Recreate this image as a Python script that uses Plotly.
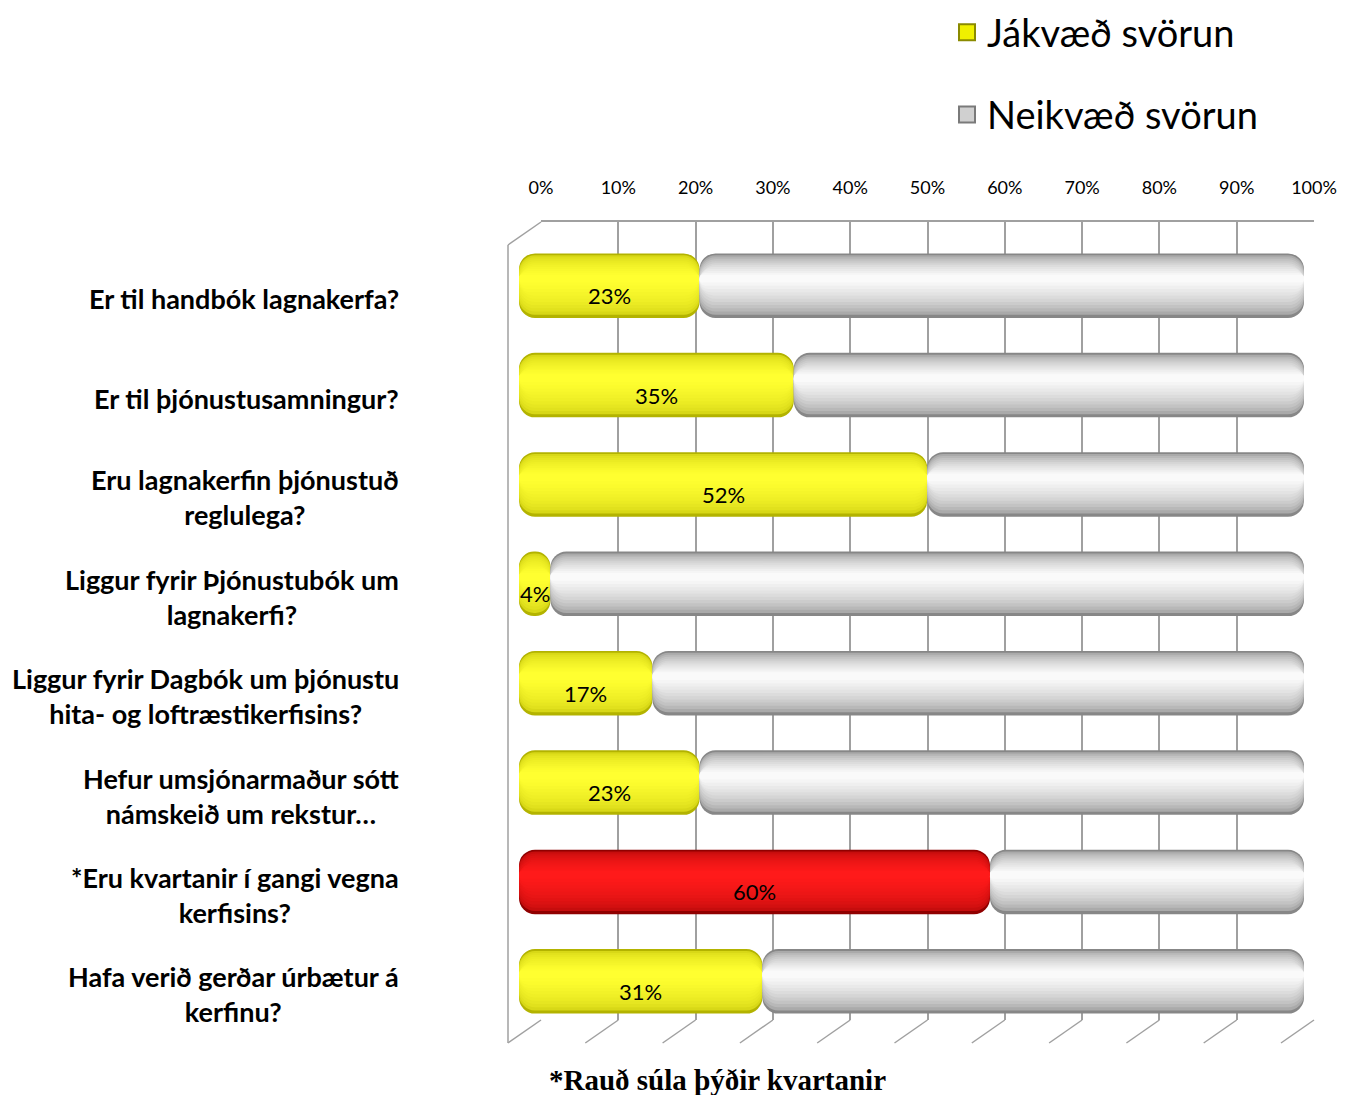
import plotly.graph_objects as go

# ---------------- data ----------------
categories = [
    "Er til handbók lagnakerfa?",
    "Er til þjónustusamningur?",
    "Eru lagnakerfin þjónustuð<br>reglulega?",
    "Liggur fyrir Þjónustubók um<br>lagnakerfi?",
    "Liggur fyrir Dagbók um þjónustu<br>hita- og loftræstikerfisins?",
    "Hefur umsjónarmaður sótt<br>námskeið um rekstur…",
    "*Eru kvartanir í gangi vegna<br>kerfisins?",
    "Hafa verið gerðar úrbætur á<br>kerfinu?",
]
jakvaed = [0.23, 0.35, 0.52, 0.04, 0.17, 0.23, 0.60, 0.31]
neikvaed = [round(1 - v, 2) for v in jakvaed]
kvartanir = [False, False, False, False, False, False, True, False]
series_names = ["Jákvæð svörun", "Neikvæð svörun"]
tick_vals = [0, 0.1, 0.2, 0.3, 0.4, 0.5, 0.6, 0.7, 0.8, 0.9, 1.0]
footnote = "*Rauð súla þýðir kvartanir"

# ---------------- style ----------------
OFF = 8                      # page body margin
W, H = 1352 - OFF, 1095 - OFF
FONT = "Lato"
RADIUS = 16
N_LAYERS = 12


def px_x(p):
    return (p - OFF) / W


def px_y(p):
    return 1 - (p - OFF) / H


def hex2rgb(h):
    return tuple(int(h[i:i + 2], 16) for i in (1, 3, 5))


def lerp(c1, c2, t):
    a, b = hex2rgb(c1), hex2rgb(c2)
    return "rgb(%d,%d,%d)" % tuple(round(x + (y - x) * t) for x, y in zip(a, b))


def layers(edge, hi, gamma):
    out = []
    for k in range(N_LAYERS):
        t = k / (N_LAYERS - 1)
        w = 0.65 * (1 - 0.88 * t)
        shift = -0.07 * t
        out.append((w, shift, lerp(edge, hi, t ** gamma)))
    return out


gray_layers = layers("#878787", "#fafafa", 0.5)
yellow_layers = layers("#b3b300", "#ffff30", 0.3)
red_layers = layers("#900000", "#ff1a1a", 0.3)

fig = go.Figure()

# invisible trace for the back-wall axis (gridlines)
fig.add_trace(go.Scatter(x=[0, 1], y=[0, 1], mode="markers", marker=dict(opacity=0),
                         showlegend=False, hoverinfo="skip", xaxis="x", yaxis="y"))

# positive (yellow / red) bars: from the value back to 0, so the rounded end sits at 0
for i, (w, sh, col) in enumerate(yellow_layers):
    colors = [red_layers[i][2] if k else col for k in kvartanir]
    fig.add_trace(go.Bar(
        y=categories, x=[-v for v in jakvaed], base=jakvaed, orientation="h",
        width=w, offset=-w / 2 + sh,
        marker=dict(color=colors, cornerradius=RADIUS, line=dict(width=0)),
        name=series_names[0], showlegend=False, xaxis="x2", yaxis="y2", hoverinfo="skip",
    ))

# negative (gray) bars: from the value to 100 %, rounded at the right end
for i, (w, sh, col) in enumerate(gray_layers):
    fig.add_trace(go.Bar(
        y=categories, x=neikvaed, base=jakvaed, orientation="h",
        width=w, offset=-w / 2 + sh,
        marker=dict(color=col, cornerradius=RADIUS, line=dict(width=0)),
        name=series_names[1], showlegend=False, xaxis="x2", yaxis="y2", hoverinfo="skip",
    ))

# legend entries
for name, col, edge in [(series_names[0], "#f0f000", "#8a8a00"),
                        (series_names[1], "#d0d0d0", "#7a7a7a")]:
    fig.add_trace(go.Scatter(x=[None], y=[None], mode="markers", name=name,
                             marker=dict(symbol="square", size=22, color=col,
                                         line=dict(color=edge, width=2)),
                             legendgroup=name, xaxis="x2", yaxis="y2"))

# value labels
for c, v in zip(categories, jakvaed):
    fig.add_annotation(x=v / 2, y=c, xref="x2", yref="y2", text=f"{round(v * 100)}%",
                       showarrow=False, yshift=-10,
                       font=dict(family=FONT, size=22, color="black"))

# category labels
for c in categories:
    fig.add_annotation(x=px_x(401), y=c, xref="paper", yref="y2", text=f"<b>{c}</b>",
                       xanchor="right", align="center", showarrow=False, yshift=-13,
                       font=dict(family=FONT, size=27, color="black"))

# 3D frame: floor diagonals and left wall (positions taken from the back-wall axis)
line_col = "#a0a0a0"
gx0, gx1 = px_x(541), px_x(1314)


def gx(t):
    return gx0 + t * (gx1 - gx0)


for t in tick_vals:
    fig.add_shape(type="line", xref="paper", yref="paper", xsizemode="pixel", ysizemode="pixel",
                  xanchor=gx(t), yanchor=px_y(1020), x0=0, x1=-33, y0=0, y1=-23,
                  line=dict(color=line_col, width=1.5), layer="below")
fig.add_shape(type="line", xref="paper", yref="paper", xsizemode="pixel", ysizemode="pixel",
              xanchor=gx(0), yanchor=px_y(222), x0=0, x1=-33, y0=0, y1=-23,
              line=dict(color=line_col, width=1.5), layer="below")
fig.add_shape(type="line", xref="paper", yref="paper", xsizemode="pixel",
              xanchor=gx(0), x0=-33, x1=-33, y0=px_y(245), y1=px_y(1043),
              line=dict(color=line_col, width=1.5), layer="below")

# footnote
fig.add_annotation(x=px_x(547), y=px_y(1080), xref="paper", yref="paper",
                   text=f"<b>{footnote}</b>", xanchor="left", yanchor="middle", showarrow=False,
                   font=dict(family="Liberation Serif", size=29, color="black"))

fig.update_layout(
    width=W, height=H,
    margin=dict(l=0, r=0, t=0, b=0, pad=0, autoexpand=False),
    paper_bgcolor="white", plot_bgcolor="rgba(0,0,0,0)",
    barmode="overlay",
    font=dict(family=FONT, color="black"),
    showlegend=True,
    legend=dict(x=px_x(947), y=px_y(1), xanchor="left", yanchor="top",
                font=dict(family=FONT, size=38, color="black"),
                traceorder="grouped", tracegroupgap=30, bgcolor="rgba(0,0,0,0)",
                itemsizing="trace"),
    xaxis=dict(domain=[gx0, gx1], range=[0, 1], side="top", anchor="y",
               tickvals=tick_vals, tickformat=".0%", ticks="", ticklabelstandoff=19,
               tickfont=dict(family=FONT, size=18, color="black"),
               showgrid=True, gridcolor=line_col, gridwidth=1.5,
               showline=True, linecolor=line_col, linewidth=1.5, zeroline=False, fixedrange=True),
    yaxis=dict(domain=[px_y(1020), px_y(222)], range=[0, 1], visible=False, fixedrange=True),
    xaxis2=dict(domain=[px_x(519), px_x(1304)], range=[0, 1], anchor="y2", visible=False,
                fixedrange=True),
    yaxis2=dict(domain=[px_y(1031), px_y(236)], anchor="x2", autorange="reversed",
                visible=False, type="category", fixedrange=True),
)

fig.write_html("out.html")
